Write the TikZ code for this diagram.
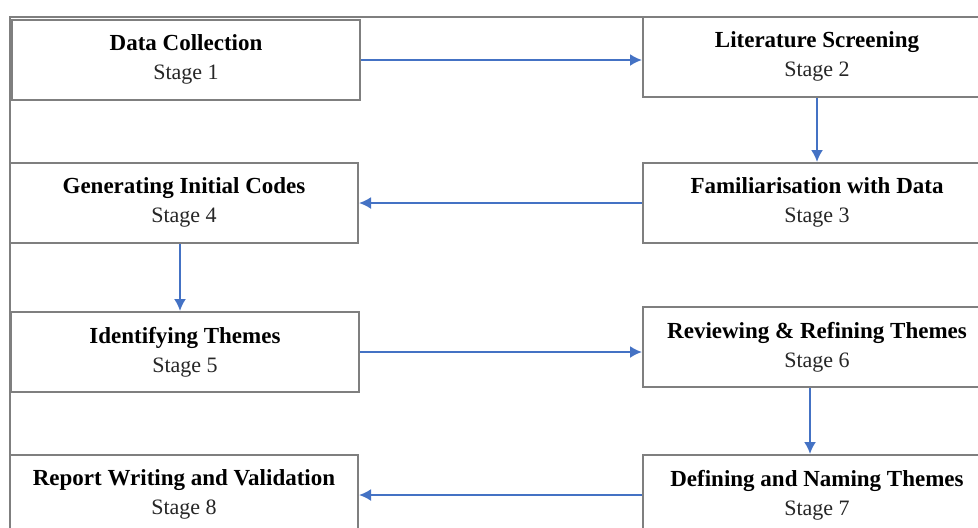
\documentclass[tikz,border=0pt]{standalone}
\usepackage{fontspec}
\setmainfont{Liberation Serif}
\usepackage{tikz}
\usetikzlibrary{arrows.meta}
\definecolor{arrowblue}{HTML}{4472C4}
\definecolor{boxgray}{HTML}{7F7F7F}
\newcommand{\stagefont}{\fontsize{11}{14.5}\selectfont\color{black!85}}
\newcommand{\lowstrut}{\rule[-2.5pt]{0pt}{2.5pt}}

\begin{document}
\begin{tikzpicture}[x=0.5pt,y=-0.5pt,
		stagebox/.style={draw=boxgray,line width=1pt,minimum width=174pt,minimum height=40pt,
			inner sep=0pt,align=center,font=\fontsize{11.5}{14.5}\selectfont},
		flow/.style={-{Latex[length=6pt,width=6pt]},line width=1pt,arrowblue}]
		\useasboundingbox (0,0) rectangle (978,527);
		\clip (0,0) rectangle (978,527);
		% outer frame
		\draw[boxgray,line width=1pt] (10,540) -- (10,17) -- (990,17);
		
		\foreach \n/\x/\y/\t in {1/186/60/Data Collection,2/817/57/Literature Screening,
			3/817/203/Familiarisation with Data,4/184/203/Generating Initial Codes,
			5/185/352/Identifying Themes,6/817/347/Reviewing \& Refining Themes,
			7/817/495/Defining and Naming Themes,8/184/495/Report Writing and Validation}
		\node[stagebox,fill=white] (s\n) at (\x,\y) {\textbf{\t}\\{\stagefont Stage \n}\lowstrut};
		
		\draw[flow] (s1.east) -- (s1.east -| s2.west);
		\draw[flow] (s2.south) -- (s3.north);
		\draw[flow] (s3.west) -- (s3.west -| s4.east);
		\draw[flow] ([xshift=-2pt]s4.south) -- ([xshift=-2pt]s4.south |- s5.north);
		\draw[flow] (s5.east) -- (s5.east -| s6.west);
		\draw[flow] ([xshift=-3.5pt]s6.south) -- ([xshift=-3.5pt]s7.north);
		\draw[flow] (s7.west) -- (s7.west -| s8.east);
%		\draw[flow] (s8.north) -- (s1.south);
	\end{tikzpicture}
\end{document}
